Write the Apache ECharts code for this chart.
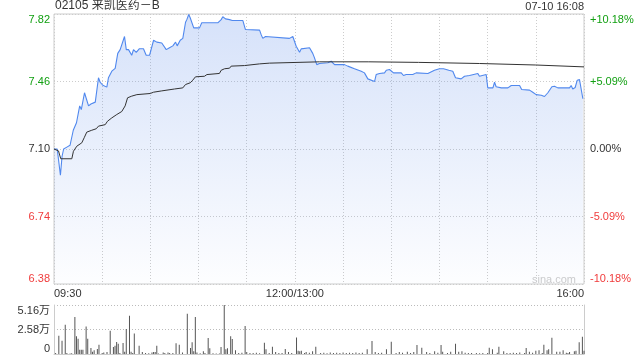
<!DOCTYPE html>
<html><head><meta charset="utf-8">
<script src="https://cdn.jsdelivr.net/npm/echarts@6/dist/echarts.min.js"></script>
<style>html,body{margin:0;padding:0;background:#fff}#c{width:640px;height:360px}</style>
</head><body><div id="c"></div>
<script>
const titleText = '02105 来凯医药－B';
const dateText = '07-10 16:08';
const prevClose = 7.10;
const priceTicks = ['6.38', '6.74', '7.10', '7.46', '7.82'];
const pctTicks = ['-10.18%', '-5.09%', '0.00%', '+5.09%', '+10.18%'];
const volTicks = ['0', '2.58万', '5.16万'];
const timeLabels = {0: '09:30', 150: '12:00/13:00', 330: '16:00'};

// minutes after 09:30 (lunch removed), price
const priceMin = [0,2,4,5,6,8,9,10,12,14,16,17,19,21.5,23,25.7,27.7,28.8,30.4,32.9,33.9,36,38.1,39.7,41.2,42.2,43.9,45,46.4,48.4,49.5,51.2,53.2,55.7,57.4,59.5,62,64,67.1,68.2,69.9,71.9,74,75.7,76.7,78.6,80.2,81.9,82.7,83.9,84.8,85.6,87,90.6,92,102,103,104.1,105.1,106.8,109.3,111,117.6,119.2,128,129,130,131.7,146.6,148.7,150.8,152.9,153.9,159.1,161.1,162.2,163.6,165.3,170.5,172.6,174.7,180.9,182.9,187.1,191.3,193.3,195.4,199.6,200.6,202.7,205.8,206.9,208.9,210,211.4,216.2,217.6,219.3,223.4,224.5,225.5,232.8,233.8,236.9,240,241.1,242.5,244.2,245.8,248.3,250,253.5,255.6,256.7,258.7,263.9,264.9,269.1,270.1,273.3,274.3,275.3,278.5,282.6,284.7,289.9,291.2,296.1,298.1,300.2,303.4,304.4,305.4,307.5,310,311.6,313.7,321,322,323,324.5,325.8,327.2,328.2,329.3];
const priceVal = [7.10,7.10,6.96,7.06,7.10,7.11,7.10,7.12,7.20,7.24,7.33,7.31,7.40,7.33,7.34,7.35,7.48,7.455,7.44,7.43,7.48,7.515,7.53,7.61,7.63,7.625,7.70,7.63,7.63,7.60,7.63,7.615,7.635,7.635,7.60,7.60,7.68,7.67,7.665,7.668,7.63,7.64,7.65,7.67,7.65,7.68,7.69,7.776,7.79,7.817,7.80,7.79,7.746,7.746,7.773,7.773,7.764,7.79,7.805,7.794,7.79,7.785,7.785,7.737,7.734,7.71,7.69,7.70,7.69,7.70,7.648,7.616,7.634,7.64,7.61,7.586,7.55,7.556,7.56,7.568,7.55,7.55,7.542,7.528,7.515,7.506,7.474,7.46,7.497,7.503,7.506,7.52,7.524,7.528,7.506,7.506,7.492,7.497,7.497,7.488,7.506,7.503,7.51,7.52,7.528,7.538,7.528,7.524,7.52,7.515,7.48,7.474,7.488,7.497,7.492,7.503,7.488,7.497,7.426,7.426,7.456,7.432,7.426,7.426,7.439,7.439,7.417,7.414,7.403,7.39,7.387,7.378,7.38,7.40,7.432,7.435,7.426,7.426,7.439,7.42,7.428,7.467,7.47,7.46,7.368];

const avgMin = [0,2.8,4.2,11.1,12.1,14.2,17.3,18.8,20.4,23.5,26.3,27.7,31.9,33.3,36,39.1,42.2,44.3,45.8,48.4,51.6,59.9,62,67.1,75,80.2,81.9,84.8,86.4,88.1,93.7,95.2,103,104.1,106.2,109.3,110.3,118.6,119.7,128,134.2,165.3,196,227,265,300,330];
const avgVal = [7.10,7.09,7.048,7.048,7.088,7.115,7.133,7.16,7.19,7.20,7.208,7.222,7.23,7.248,7.266,7.284,7.30,7.33,7.373,7.382,7.39,7.396,7.403,7.41,7.42,7.426,7.444,7.453,7.467,7.485,7.488,7.497,7.503,7.52,7.528,7.531,7.542,7.545,7.55,7.554,7.558,7.565,7.565,7.562,7.556,7.548,7.538];

// volume in 万
const volMin = [1,3,5,7,8,10,11,13,14,15,16,17,18,20,21,23,24,25,27,28,30,31,33,35,37,38,39,40,41,43,44,45,47,48,49,50,53,55,57,59,61,62,63,64,65,68,69,71,72,74,76,78,80,83,85,86,87,88,89,91,93,94,96,97,99,101,103,104,106,107,108,110,111,113,115,117,119,120,122,124,126,128,131,132,134,136,138,140,142,144,146,148,151,152,153,154,156,157,159,161,163,166,168,170,172,174,176,178,180,182,184,186,188,190,192,195,198,200,202,204,207,210,213,215,217,220,222,224,226,229,232,234,237,239,241,242,245,247,250,252,254,256,258,260,263,265,267,270,271,273,276,277,280,282,284,286,288,290,293,294,296,298,300,302,304,305,307,308,310,313,315,317,319,320,321,324,325,327,329,330];
const volVal = [0.1,1.93,1.4,3.08,0.1,0.05,0.08,3.89,1.86,1.61,0.46,0.46,0.46,2.9,1.61,0.63,0.25,0.4,0.53,0.98,0.1,0.15,0.2,2.45,0.74,0.88,1.26,1.09,0.1,1.16,0.25,2.63,4.03,0.25,0.1,2.17,0.88,0.2,0.1,0.08,0.15,0.2,0.2,0.88,0.05,0.15,0.1,0.15,0.1,0.1,1.12,0.98,0.15,4.24,0.63,1.23,0.3,3.89,0.15,0.08,0.3,0.1,1.68,0.6,0.08,0.05,0.05,0.74,5.16,0.5,0.6,1.86,1.58,0.4,0.1,0.12,2.95,0.2,0.1,0.1,0.12,0.08,1.19,0.49,0.1,0.77,0.2,0.1,0.1,0.53,0.2,0.1,1.75,0.35,0.3,0.35,0.1,0.2,0.12,0.3,0.77,0.1,0.12,0.08,0.15,0.1,0.12,0.1,0.15,0.1,0.12,0.1,0.15,0.1,0.12,0.49,1.37,0.2,0.1,0.12,0.5,1.3,0.1,0.2,0.12,0.25,0.1,0.2,0.95,0.67,0.2,0.1,0.3,0.12,0.95,0.25,0.1,0.25,1.09,0.25,0.3,0.12,0.1,0.1,0.1,0.08,0.1,0.1,0.67,0.5,0.12,0.77,0.3,0.1,0.1,0.12,0.1,0.15,0.1,0.63,0.25,0.12,0.35,0.4,0.1,0.98,0.4,0.5,1.72,0.25,0.25,0.4,0.12,0.1,0.2,0.3,0.35,1.23,1.82,0.35,1.37];

const FONT = '"Liberation Sans", Arial, "Noto Sans CJK SC", sans-serif';
const GREEN = '#12a012', RED = '#f03c3c', DARK = '#333';

const priceData = priceMin.map((m, i) => [m, +(priceVal[i] - prevClose).toFixed(4)]);
const avgData = avgMin.map((m, i) => [m, +(avgVal[i] - prevClose).toFixed(4)]);
const volData = volMin.map((m, i) => [m, volVal[i]]);

const tickIdx = v => Math.round(v / 0.36) + 2;
const richCols = {g: {color: GREEN}, r: {color: RED}, d: {color: DARK}};
const colKey = v => (v > 0.001 ? 'g' : (v < -0.001 ? 'r' : 'd'));

const chart = echarts.init(document.getElementById('c'), null, {renderer: 'canvas'});
chart.setOption({
  animation: false,
  backgroundColor: '#fff',
  textStyle: {fontFamily: FONT},
  grid: [
    {left: 54, top: 14, width: 530, height: 270, show: true, borderColor: '#ccc', borderWidth: 1},
    {left: 54, top: 305, width: 530, height: 49, show: false}
  ],
  graphic: [
    {type: 'text', left: 55, top: 0, style: {text: titleText, font: '12px ' + FONT, fill: '#333'}},
    {type: 'text', right: 56, top: 1, style: {text: dateText, font: '11px ' + FONT, fill: '#333'}},
    {type: 'text', left: 532, top: 274, style: {text: 'sina.com', font: '11px ' + FONT, fill: '#ccc'}}
  ],
  xAxis: [
    {type: 'value', gridIndex: 0, min: 0, max: 330, interval: 30,
     axisLine: {show: false}, axisTick: {show: false},
     splitLine: {show: true, lineStyle: {color: '#ccc', type: [1, 2], width: 1}},
     axisLabel: {show: true, margin: 4, fontSize: 11, color: DARK, fontFamily: FONT,
       alignMinLabel: 'left', alignMaxLabel: 'right',
       formatter: v => timeLabels[Math.round(v)] || ''}},
    {type: 'value', gridIndex: 1, min: 0, max: 330, interval: 30,
     axisLine: {show: true, lineStyle: {color: '#ccc'}}, axisTick: {show: false},
     splitLine: {show: false}, axisLabel: {show: false}}
  ],
  yAxis: [
    {type: 'value', gridIndex: 0, min: -0.72, max: 0.72, interval: 0.36,
     axisLine: {show: false}, axisTick: {show: false},
     splitLine: {show: true, lineStyle: {color: '#ccc', type: [1, 2]}},
     axisLabel: {margin: 4, fontSize: 11, fontFamily: FONT,
       verticalAlignMinLabel: 'bottom', verticalAlignMaxLabel: 'top',
       formatter: v => '{' + colKey(v) + '|' + priceTicks[tickIdx(v)] + '}', rich: richCols}},
    {type: 'value', gridIndex: 0, position: 'right', min: -0.72, max: 0.72, interval: 0.36,
     axisLine: {show: false}, axisTick: {show: false}, splitLine: {show: false},
     axisLabel: {margin: 6, fontSize: 11, fontFamily: FONT,
       verticalAlignMinLabel: 'bottom', verticalAlignMaxLabel: 'top',
       formatter: v => '{' + colKey(v) + '|' + pctTicks[tickIdx(v)] + '}', rich: richCols}},
    {type: 'value', gridIndex: 1, min: 0, max: 5.16, interval: 2.58,
     axisLine: {show: true, lineStyle: {color: '#ccc'}}, axisTick: {show: false},
     splitLine: {show: true, lineStyle: {color: '#bbb', type: [1, 2]}},
     axisLabel: {margin: 4, fontSize: 11, color: DARK, fontFamily: FONT,
       verticalAlignMinLabel: 'bottom', verticalAlignMaxLabel: 'top',
       formatter: v => volTicks[Math.round(v / 2.58)]}},
    {type: 'value', gridIndex: 1, position: 'right', min: 0, max: 5.16, interval: 2.58,
     axisLine: {show: true, lineStyle: {color: '#ccc'}}, axisTick: {show: false},
     splitLine: {show: false}, axisLabel: {show: false}}
  ],
  series: [
    {type: 'line', xAxisIndex: 0, yAxisIndex: 0, data: priceData, symbol: 'none',
     lineStyle: {color: '#5088ee', width: 1.1},
     areaStyle: {origin: 'start', color: new echarts.graphic.LinearGradient(0, 0, 0, 1, [
       {offset: 0, color: 'rgba(100,145,235,0.38)'},
       {offset: 1, color: 'rgba(100,145,235,0.02)'}])}},
    {type: 'line', xAxisIndex: 0, yAxisIndex: 0, data: avgData, symbol: 'none',
     lineStyle: {color: '#333', width: 1}},
    {type: 'bar', xAxisIndex: 1, yAxisIndex: 2, data: volData, barWidth: 1,
     itemStyle: {color: '#555'}}
  ]
});
</script></body></html>
